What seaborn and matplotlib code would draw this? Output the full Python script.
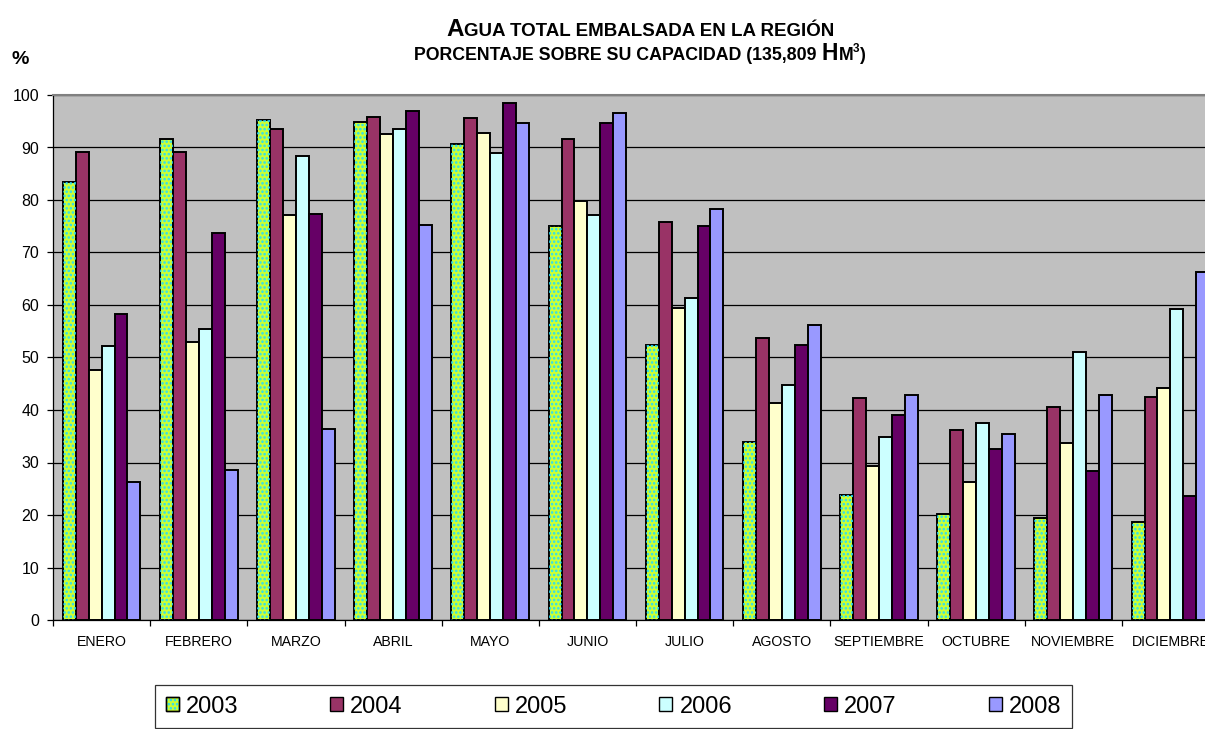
import numpy as np
import pandas as pd
import matplotlib
matplotlib.use("Agg")
import matplotlib.pyplot as plt
import matplotlib.patches as mpatches
from matplotlib.legend_handler import HandlerTuple
import seaborn as sns

# Months and years
meses = ["ENERO", "FEBRERO", "MARZO", "ABRIL", "MAYO", "JUNIO", "JULIO",
         "AGOSTO", "SEPTIEMBRE", "OCTUBRE", "NOVIEMBRE", "DICIEMBRE"]
anios = ["2003", "2004", "2005", "2006", "2007", "2008"]

# Percentage of capacity
v2003 = [83.5, 91.6, 95.3, 94.8, 90.7, 75.0, 52.4, 34.0, 23.8, 20.2, 19.5, 18.7]
v2004 = [89.2, 89.2, 93.6, 95.8, 95.7, 91.7, 75.9, 53.8, 42.3, 36.1, 40.6, 42.5]
v2005 = [47.7, 53.0, 77.1, 92.5, 92.7, 79.8, 59.5, 41.4, 29.3, 26.2, 33.7, 44.1]
v2006 = [52.2, 55.4, 88.4, 93.5, 88.9, 77.1, 61.4, 44.8, 34.9, 37.5, 51.1, 59.2]
v2007 = [58.2, 73.7, 77.3, 97.0, 98.5, 94.7, 75.0, 52.3, 39.1, 32.6, 28.4, 23.7]
v2008 = [26.2, 28.6, 36.4, 75.2, 94.7, 96.6, 78.3, 56.1, 42.9, 35.4, 42.9, 66.2]

colores = ["#CCFF33", "#993366", "#FFFFCC", "#CCFFFF", "#660066", "#9999FF"]
punto = "#22DDFF"

df = pd.DataFrame({"2003": v2003, "2004": v2004, "2005": v2005,
                   "2006": v2006, "2007": v2007, "2008": v2008}, index=meses)
df = df.reset_index(names="mes").melt(id_vars="mes", var_name="anio", value_name="pct")

W, H = 1205, 729
fig = plt.figure(figsize=(W / 100, H / 100), dpi=100)
plt.rcParams["font.family"] = ["Liberation Sans", "DejaVu Sans"]
plt.rcParams["hatch.linewidth"] = 1.2

# plot area runs past the right edge like in the original
ax = fig.add_axes([53 / W, (H - 620) / H, (1219 - 53) / W, 525 / H])
ax.set_facecolor("#C0C0C0")
ax.set_axisbelow(True)

sns.barplot(data=df, x="mes", y="pct", hue="anio", order=meses, hue_order=anios,
            palette=colores, saturation=1, width=0.8, edgecolor="black",
            linewidth=1.4, legend=False, ax=ax)

# dotted pattern on the 2003 bars
for p in ax.containers[0].patches:
    ax.add_patch(mpatches.Rectangle(p.get_xy(), p.get_width(), p.get_height(),
                                    facecolor="none", edgecolor=punto,
                                    hatch="....", linewidth=0, zorder=p.get_zorder() + 0.1))

ax.set_ylim(0, 100)
ax.set_xlim(-0.5, 11.5)
ax.set_yticks(range(0, 101, 10))
ax.yaxis.grid(True, color="black", linewidth=0.9)
ax.xaxis.grid(False)
ax.set_xlabel("")
ax.set_ylabel("")

ax.tick_params(axis="y", direction="out", length=4, width=0.9, labelsize=11.5, pad=6)
ax.tick_params(axis="x", which="major", length=0, labelsize=10.2, pad=11)
ax.set_xticks(np.arange(-0.5, 12, 1), minor=True)
ax.tick_params(axis="x", which="minor", direction="out", length=4, width=0.9)

for s in ["left", "bottom"]:
    ax.spines[s].set_color("black")
    ax.spines[s].set_linewidth(0.9)
ax.spines["top"].set_color("#808080")
ax.spines["top"].set_linewidth(1.5)
ax.spines["right"].set_visible(False)

# title in small caps style
renderer = fig.canvas.get_renderer()


def rich_line(pieces, y_px):
    objs = []
    for s, size, dy in pieces:
        t = fig.text(0, 0, s, fontsize=size, fontweight="bold", va="baseline", ha="left")
        objs.append((t, dy))
    widths = [t.get_window_extent(renderer).width for t, _ in objs]
    x = 640 - sum(widths) / 2
    for (t, dy), w in zip(objs, widths):
        t.set_position((x / W, 1 - (y_px - dy) / H))
        x += w


rich_line([("A", 17.5, 0), ("GUA TOTAL EMBALSADA EN LA REGIÓN", 13.5, 0)], 36)
rich_line([("PORCENTAJE SOBRE SU CAPACIDAD (135,809 ", 12.8, 0), ("H", 16.5, 0),
           ("M", 12.8, 0), ("3", 8.5, 8), (")", 12.8, 0)], 60)

fig.text(20 / W, 1 - 60 / H, "%", fontsize=14, fontweight="bold", ha="center", va="center")

# legend
handles = []
for i, c in enumerate(colores):
    base = mpatches.Patch(facecolor=c, edgecolor="black", linewidth=1.0)
    if i == 0:
        dots = mpatches.Patch(facecolor="none", edgecolor=punto, hatch="....", linewidth=0)
        frame = mpatches.Patch(facecolor="none", edgecolor="black", linewidth=1.0)
        handles.append((base, dots, frame))
    else:
        handles.append(base)
leg = fig.legend(handles=handles, labels=anios, loc="upper left", ncol=6, mode="expand",
                 bbox_to_anchor=(155 / W, 1 - 685 / H, 917 / W, 0),
                 bbox_transform=fig.transFigure, borderaxespad=0,
                 handler_map={tuple: HandlerTuple(ndivide=1)},
                 fontsize=17, handlelength=0.55, handleheight=0.55,
                 handletextpad=0.3, borderpad=0.45, fancybox=False,
                 frameon=True, edgecolor="black")
leg.get_frame().set_linewidth(0.9)

fig.savefig("out.png", dpi=100)
